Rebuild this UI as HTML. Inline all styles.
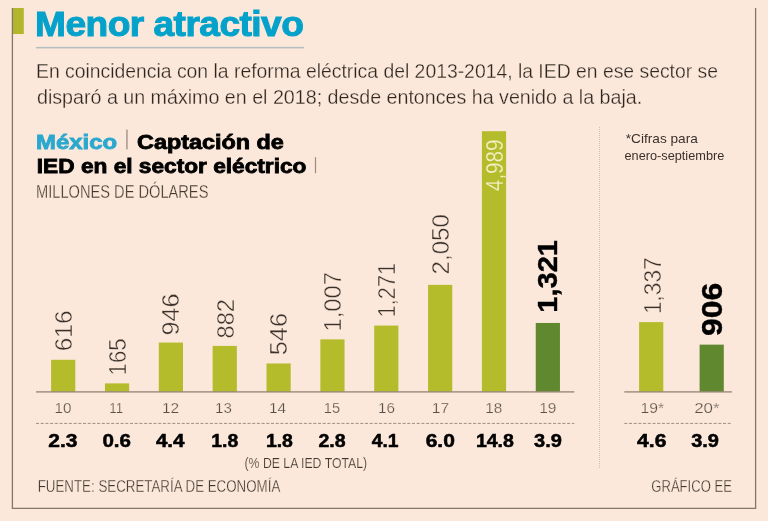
<!DOCTYPE html>
<html lang="es"><head><meta charset="utf-8"><title>Menor atractivo</title>
<style>html,body{margin:0;padding:0;background:#fbe8da;overflow:hidden;}svg{display:block;}text{font-family:"Liberation Sans",sans-serif;}</style>
</head><body>
<svg width="768" height="521" viewBox="0 0 768 521">
<rect x="0" y="0" width="768" height="521" fill="#fbe8da"/>
<rect x="12" y="8" width="11.8" height="26" fill="#b3b62b"/>
<path d="M12.4 8 V508.4 H755.6 V8" fill="none" stroke="#85766a" stroke-width="1.3"/>
<rect x="36" y="46.9" width="268" height="1.5" fill="#b3bfbf"/>
<rect x="126.3" y="129.6" width="1.3" height="19.8" fill="#9a8b80"/>
<rect x="314.9" y="157.2" width="1.2" height="16" fill="#9a8b80"/>
<line x1="36" y1="423.4" x2="574.3" y2="423.4" stroke="#9d8f84" stroke-width="1" stroke-dasharray="3 1.7"/>
<line x1="624.3" y1="423.4" x2="731.9" y2="423.4" stroke="#9d8f84" stroke-width="1" stroke-dasharray="3 1.7"/>
<line x1="599.5" y1="127" x2="599.5" y2="468.5" stroke="#cdbfb3" stroke-width="1" stroke-dasharray="1 1"/>
<rect x="51.10" y="359.80" width="24.2" height="32.20" fill="#b4bc2b"/>
<rect x="104.95" y="383.38" width="24.2" height="8.62" fill="#b4bc2b"/>
<rect x="158.80" y="342.55" width="24.2" height="49.45" fill="#b4bc2b"/>
<rect x="212.65" y="345.90" width="24.2" height="46.10" fill="#b4bc2b"/>
<rect x="266.50" y="363.46" width="24.2" height="28.54" fill="#b4bc2b"/>
<rect x="320.35" y="339.36" width="24.2" height="52.64" fill="#b4bc2b"/>
<rect x="374.20" y="325.56" width="24.2" height="66.44" fill="#b4bc2b"/>
<rect x="428.05" y="284.85" width="24.2" height="107.15" fill="#b4bc2b"/>
<rect x="481.90" y="131.22" width="24.2" height="260.78" fill="#b4bc2b"/>
<rect x="535.75" y="322.95" width="24.2" height="69.05" fill="#60882e"/>
<rect x="639.10" y="322.12" width="24.2" height="69.88" fill="#b4bc2b"/>
<rect x="699.60" y="344.64" width="24.2" height="47.36" fill="#60882e"/>
<rect x="36" y="391.2" width="538.3" height="1.4" fill="#9a8a7a"/>
<rect x="624.3" y="391.2" width="107.6" height="1.4" fill="#9a8a7a"/>
<text x="35.10" y="35.70" font-size="34.5" fill="#04a2cb" font-weight="bold" textLength="268.20" lengthAdjust="spacingAndGlyphs" stroke="#04a2cb" stroke-width="1.0" letter-spacing="-0.5">Menor atractivo</text>
<text x="36.00" y="78.20" font-size="20.5" fill="#2f2621" textLength="682.00" lengthAdjust="spacingAndGlyphs" stroke="#fbe8da" stroke-width="0.3">En coincidencia con la reforma eléctrica del 2013-2014, la IED en ese sector se</text>
<text x="37.00" y="104.30" font-size="20.5" fill="#2f2621" textLength="605.20" lengthAdjust="spacingAndGlyphs" stroke="#fbe8da" stroke-width="0.3">disparó a un máximo en el 2018; desde entonces ha venido a la baja.</text>
<text x="36.10" y="149.20" font-size="19.5" fill="#2ba8cf" font-weight="bold" textLength="81.00" lengthAdjust="spacingAndGlyphs" stroke="#2ba8cf" stroke-width="0.8">México</text>
<text x="137.00" y="149.20" font-size="19.5" fill="#000" font-weight="bold" textLength="146.80" lengthAdjust="spacingAndGlyphs" stroke="#000" stroke-width="0.8">Captación de</text>
<text x="36.80" y="172.60" font-size="19.5" fill="#000" font-weight="bold" textLength="269.60" lengthAdjust="spacingAndGlyphs" stroke="#000" stroke-width="0.8">IED en el sector eléctrico</text>
<text x="36.00" y="198.00" font-size="17.8" fill="#40362f" textLength="172.40" lengthAdjust="spacingAndGlyphs" stroke="#fbe8da" stroke-width="0.3">MILLONES DE DÓLARES</text>
<text x="625.80" y="143.00" font-size="13.5" fill="#3a302b" textLength="72.00" lengthAdjust="spacingAndGlyphs">*Cifras para</text>
<text x="624.50" y="159.80" font-size="13.5" fill="#3a302b" textLength="99.80" lengthAdjust="spacingAndGlyphs">enero-septiembre</text>
<text x="244.50" y="468.20" font-size="14.5" fill="#40362f" textLength="122.60" lengthAdjust="spacingAndGlyphs" stroke="#fbe8da" stroke-width="0.2">(% DE LA IED TOTAL)</text>
<text x="37.70" y="492.40" font-size="16.4" fill="#40362f" textLength="242.60" lengthAdjust="spacingAndGlyphs" stroke="#fbe8da" stroke-width="0.3">FUENTE: SECRETARÍA DE ECONOMÍA</text>
<text x="651.30" y="492.40" font-size="16.4" fill="#40362f" textLength="80.60" lengthAdjust="spacingAndGlyphs" stroke="#fbe8da" stroke-width="0.3">GRÁFICO EE</text>
<text x="63.00" y="413.30" font-size="15.2" fill="#5a504a" text-anchor="middle" textLength="17.00" lengthAdjust="spacingAndGlyphs" stroke="#fbe8da" stroke-width="0.25">10</text>
<text x="62.90" y="447.20" font-size="18" fill="#000" font-weight="bold" text-anchor="middle" textLength="29.20" lengthAdjust="spacingAndGlyphs" stroke="#000" stroke-width="0.5">2.3</text>
<text x="116.20" y="413.30" font-size="15.2" fill="#5a504a" text-anchor="middle" textLength="13.80" lengthAdjust="spacingAndGlyphs" stroke="#fbe8da" stroke-width="0.25">11</text>
<text x="116.70" y="447.20" font-size="18" fill="#000" font-weight="bold" text-anchor="middle" textLength="28.60" lengthAdjust="spacingAndGlyphs" stroke="#000" stroke-width="0.5">0.6</text>
<text x="170.60" y="413.30" font-size="15.2" fill="#5a504a" text-anchor="middle" textLength="17.20" lengthAdjust="spacingAndGlyphs" stroke="#fbe8da" stroke-width="0.25">12</text>
<text x="170.20" y="447.20" font-size="18" fill="#000" font-weight="bold" text-anchor="middle" textLength="28.60" lengthAdjust="spacingAndGlyphs" stroke="#000" stroke-width="0.5">4.4</text>
<text x="223.50" y="413.30" font-size="15.2" fill="#5a504a" text-anchor="middle" textLength="16.80" lengthAdjust="spacingAndGlyphs" stroke="#fbe8da" stroke-width="0.25">13</text>
<text x="224.70" y="447.20" font-size="18" fill="#000" font-weight="bold" text-anchor="middle" textLength="27.00" lengthAdjust="spacingAndGlyphs" stroke="#000" stroke-width="0.5">1.8</text>
<text x="277.50" y="413.30" font-size="15.2" fill="#5a504a" text-anchor="middle" textLength="17.20" lengthAdjust="spacingAndGlyphs" stroke="#fbe8da" stroke-width="0.25">14</text>
<text x="279.40" y="447.20" font-size="18" fill="#000" font-weight="bold" text-anchor="middle" textLength="27.00" lengthAdjust="spacingAndGlyphs" stroke="#000" stroke-width="0.5">1.8</text>
<text x="331.95" y="413.30" font-size="15.2" fill="#5a504a" text-anchor="middle" textLength="16.20" lengthAdjust="spacingAndGlyphs" stroke="#fbe8da" stroke-width="0.25">15</text>
<text x="332.05" y="447.20" font-size="18" fill="#000" font-weight="bold" text-anchor="middle" textLength="27.20" lengthAdjust="spacingAndGlyphs" stroke="#000" stroke-width="0.5">2.8</text>
<text x="386.45" y="413.30" font-size="15.2" fill="#5a504a" text-anchor="middle" textLength="17.00" lengthAdjust="spacingAndGlyphs" stroke="#fbe8da" stroke-width="0.25">16</text>
<text x="385.10" y="447.20" font-size="18" fill="#000" font-weight="bold" text-anchor="middle" textLength="26.80" lengthAdjust="spacingAndGlyphs" stroke="#000" stroke-width="0.5">4.1</text>
<text x="440.50" y="413.30" font-size="15.2" fill="#5a504a" text-anchor="middle" textLength="17.40" lengthAdjust="spacingAndGlyphs" stroke="#fbe8da" stroke-width="0.25">17</text>
<text x="440.30" y="447.20" font-size="18" fill="#000" font-weight="bold" text-anchor="middle" textLength="29.20" lengthAdjust="spacingAndGlyphs" stroke="#000" stroke-width="0.5">6.0</text>
<text x="493.75" y="413.30" font-size="15.2" fill="#5a504a" text-anchor="middle" textLength="17.00" lengthAdjust="spacingAndGlyphs" stroke="#fbe8da" stroke-width="0.25">18</text>
<text x="494.90" y="447.20" font-size="18" fill="#000" font-weight="bold" text-anchor="middle" textLength="38.00" lengthAdjust="spacingAndGlyphs" stroke="#000" stroke-width="0.5">14.8</text>
<text x="547.80" y="413.30" font-size="15.2" fill="#5a504a" text-anchor="middle" textLength="17.20" lengthAdjust="spacingAndGlyphs" stroke="#fbe8da" stroke-width="0.25">19</text>
<text x="547.95" y="447.20" font-size="18" fill="#000" font-weight="bold" text-anchor="middle" textLength="27.80" lengthAdjust="spacingAndGlyphs" stroke="#000" stroke-width="0.5">3.9</text>
<text x="652.35" y="413.30" font-size="15.2" fill="#5a504a" text-anchor="middle" textLength="23.60" lengthAdjust="spacingAndGlyphs" stroke="#fbe8da" stroke-width="0.25">19*</text>
<text x="651.70" y="447.20" font-size="18" fill="#000" font-weight="bold" text-anchor="middle" textLength="29.40" lengthAdjust="spacingAndGlyphs" stroke="#000" stroke-width="0.5">4.6</text>
<text x="706.85" y="413.30" font-size="15.2" fill="#5a504a" text-anchor="middle" textLength="25.40" lengthAdjust="spacingAndGlyphs" stroke="#fbe8da" stroke-width="0.25">20*</text>
<text x="705.10" y="447.20" font-size="18" fill="#000" font-weight="bold" text-anchor="middle" textLength="27.80" lengthAdjust="spacingAndGlyphs" stroke="#000" stroke-width="0.5">3.9</text>
<text x="72.00" y="351.30" font-size="24.5" fill="#3a302b" textLength="40.80" lengthAdjust="spacingAndGlyphs" stroke="#fbe8da" stroke-width="0.45" transform="rotate(-90 72.00 351.30)">616</text>
<text x="125.60" y="375.40" font-size="24.5" fill="#3a302b" textLength="37.00" lengthAdjust="spacingAndGlyphs" stroke="#fbe8da" stroke-width="0.45" transform="rotate(-90 125.60 375.40)">165</text>
<text x="179.40" y="335.40" font-size="24.5" fill="#3a302b" textLength="42.00" lengthAdjust="spacingAndGlyphs" stroke="#fbe8da" stroke-width="0.45" transform="rotate(-90 179.40 335.40)">946</text>
<text x="233.80" y="338.40" font-size="24.5" fill="#3a302b" textLength="39.20" lengthAdjust="spacingAndGlyphs" stroke="#fbe8da" stroke-width="0.45" transform="rotate(-90 233.80 338.40)">882</text>
<text x="287.20" y="355.20" font-size="24.5" fill="#3a302b" textLength="42.20" lengthAdjust="spacingAndGlyphs" stroke="#fbe8da" stroke-width="0.45" transform="rotate(-90 287.20 355.20)">546</text>
<text x="341.20" y="331.60" font-size="24.5" fill="#3a302b" textLength="59.60" lengthAdjust="spacingAndGlyphs" stroke="#fbe8da" stroke-width="0.45" transform="rotate(-90 341.20 331.60)">1,007</text>
<text x="395.40" y="317.20" font-size="24.5" fill="#3a302b" textLength="54.20" lengthAdjust="spacingAndGlyphs" stroke="#fbe8da" stroke-width="0.45" transform="rotate(-90 395.40 317.20)">1,271</text>
<text x="449.20" y="274.40" font-size="24.5" fill="#3a302b" textLength="60.20" lengthAdjust="spacingAndGlyphs" stroke="#fbe8da" stroke-width="0.45" transform="rotate(-90 449.20 274.40)">2,050</text>
<text x="503.20" y="191.00" font-size="24.5" fill="#f4efc4" textLength="51.40" lengthAdjust="spacingAndGlyphs" stroke="#b4bc2b" stroke-width="0.15" transform="rotate(-90 503.20 191.00)">4,989</text>
<text x="557.22" y="312.80" font-size="28.2" fill="#000" font-weight="bold" textLength="72.80" lengthAdjust="spacingAndGlyphs" stroke="#000" stroke-width="0.4" transform="rotate(-90 557.22 312.80)">1,321</text>
<text x="661.40" y="314.10" font-size="24.5" fill="#3a302b" textLength="56.80" lengthAdjust="spacingAndGlyphs" stroke="#fbe8da" stroke-width="0.45" transform="rotate(-90 661.40 314.10)">1,337</text>
<text x="722.50" y="336.10" font-size="30" fill="#000" font-weight="bold" textLength="53.40" lengthAdjust="spacingAndGlyphs" stroke="#000" stroke-width="0.4" transform="rotate(-90 722.50 336.10)">906</text>
</svg>
</body></html>
